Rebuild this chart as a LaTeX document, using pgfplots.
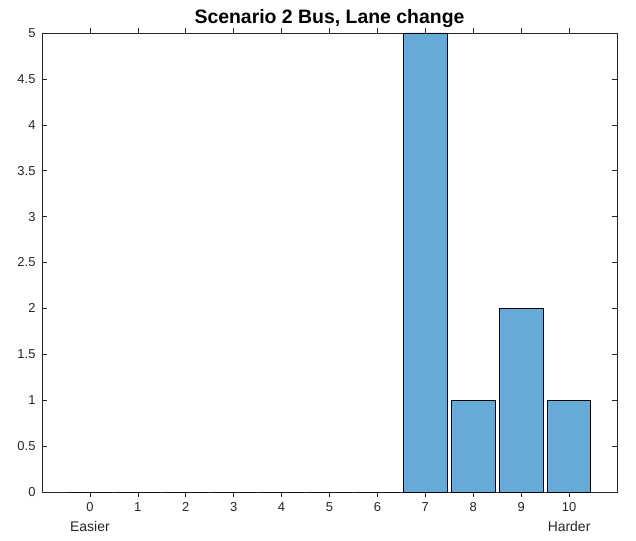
\documentclass[border=0pt]{standalone}
\usepackage{pgfplots}
\pgfplotsset{compat=1.18}
\usepackage{fontspec}
\setmainfont{Liberation Sans}
\usetikzlibrary{calc}
\definecolor{barblue}{HTML}{66AAD7}
\definecolor{axgray}{HTML}{262626}
\newcommand{\wordlab}[1]{{\fontsize{14}{14}\selectfont #1}}
\begin{document}
\begin{tikzpicture}
\begin{axis}[
  scale only axis,
  width=575bp, height=459bp,
  xmin=-1, xmax=11, ymin=0, ymax=5,
  xtick={0,1,2,3,4,5,6,7,8,9,10},
  xticklabels={{0\\[3pt]\wordlab{Easier}},1,2,3,4,5,6,7,8,9,{10\\[3pt]\wordlab{Harder}}},
  xticklabel style={align=center, anchor=north, yshift=-2bp},
  ytick={0,0.5,1,1.5,2,2.5,3,3.5,4,4.5,5},
  yticklabel style={/pgf/number format/fixed, xshift=-3bp},
  /pgf/number format/assume math mode=true,
  tick label style={font=\fontsize{13}{17}\selectfont, text=axgray},
  tick align=inside,
  major tick length=5bp,
  axis line style={axgray, line width=0.6pt},
  tick style={axgray, line width=0.6pt},
  title={\textbf{Scenario 2 Bus, Lane change}},
  title style={font=\fontsize{19.5}{22}\selectfont, yshift=-4bp},
  ybar, bar width=0.91, bar shift=0pt,
  clip=false,
]
\addplot[fill=barblue, draw=black, line width=0.8pt] coordinates {
  (0,0) (1,0) (2,0) (3,0) (4,0) (5,0) (6,0) (7,5) (8,1) (9,2) (10,1)
};
\end{axis}
\useasboundingbox ($(current axis.south west)+(-42bp,-49bp)$) rectangle ($(current axis.north east)+(19bp,33bp)$);
\end{tikzpicture}
\end{document}
